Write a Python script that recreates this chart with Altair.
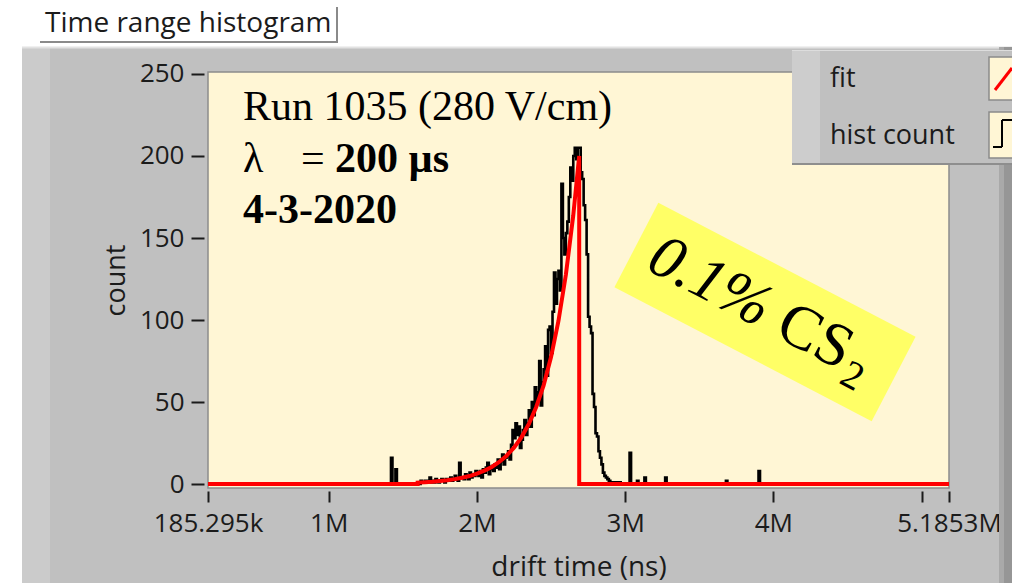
import math
import altair as alt
import pandas as pd

# ---------------- data ----------------
# drift time axis (ns)
x_domain = [185295, 5185300]
x_tick_values = [185295, 1000000, 2000000, 3000000, 4000000, 5000000, 5185300]
x_tick_labels = ["185.295k", "1M", "2M", "3M", "4M", "", "5.1853M"]
y_tick_values = [0, 50, 100, 150, 200, 250]

# histogram: bin width 0.01 M ns, contiguous block starting at 1.60 M ns
hist_bin_width_M = 0.01
hist_block_start_M = 1.60
hist_rise = [1, 0, 2, 1, 1, 2, 1, 2, 4, 1,
             2, 1, 3, 2, 1, 2, 3, 2, 1, 3,
             3, 2, 4, 2, 3, 5, 3, 2, 13, 4,
             4, 3, 6, 5, 3, 7, 4, 6, 5, 8,
             6, 5, 8, 4, 9, 7, 10, 13, 6, 9,
             11, 8, 12, 10, 15, 9, 14, 18, 12, 16,
             17, 20, 15, 24, 33, 28, 37, 30, 35, 22]
hist_peak = [27, 33, 39, 30, 37, 45, 35, 50, 42, 59,
             50, 56, 75, 48, 62, 70, 84, 66, 94, 96,
             80, 105, 129, 110, 125, 130, 118, 183, 150, 140,
             153, 160, 175, 193, 185, 200, 205, 198, 205, 205]
hist_tail = [190, 186, 170, 161, 140, 102, 96, 92, 55, 47,
             31, 29, 20, 16, 12, 7, 5, 4, 3, 2,
             1, 1, 0, 1, 1, 0, 1]
# isolated single-bin spikes (M ns, count)
spike_t_M = [1.42, 1.45, 3.03, 3.08, 3.13, 3.27, 3.68, 3.90]
spike_c = [16, 9, 19, 2, 4, 4, 2, 8]

# exponential fit (M ns, count), zero elsewhere
fit_t_M = [1.60, 1.65, 1.70, 1.75, 1.80, 1.85, 1.90, 1.95, 2.00, 2.05, 2.10, 2.15,
           2.20, 2.25, 2.30, 2.35, 2.40, 2.45, 2.50, 2.55, 2.60, 2.65, 2.69]
fit_c = [0.9, 1.1, 1.4, 1.8, 2.3, 3.0, 3.9, 4.9, 6.4, 8.2, 10.4, 13.5,
         17.3, 22.2, 28.5, 36.6, 47.0, 60.2, 77.4, 99.4, 127.6, 163.8, 200]

# ---------------- build tables ----------------
block = hist_rise + hist_peak + hist_tail
pts = [(x_domain[0] / 1e6, 0)]
for i, c in enumerate(block):
    pts.append((round(hist_block_start_M + i * hist_bin_width_M, 4), c))
pts.append((round(hist_block_start_M + len(block) * hist_bin_width_M, 4), 0))
for t, c in zip(spike_t_M, spike_c):
    pts.append((t, c))
    pts.append((round(t + hist_bin_width_M, 4), 0))
pts.append((x_domain[1] / 1e6, 0))
pts.sort(key=lambda p: p[0])
hist_df = pd.DataFrame({"t": [p[0] * 1e6 for p in pts], "c": [p[1] for p in pts],
                        "o": list(range(len(pts)))})

fpts = [(x_domain[0] / 1e6, 0), (fit_t_M[0], 0)]
fpts += list(zip(fit_t_M, fit_c))
fpts += [(fit_t_M[-1], 0), (x_domain[1] / 1e6, 0)]
fit_df = pd.DataFrame({"t": [p[0] * 1e6 for p in fpts], "c": [p[1] for p in fpts],
                       "o": list(range(len(fpts)))})

# ---------------- styling ----------------
UI_FONT = "Open Sans"
SERIF = "Liberation Serif"
INK = "#1b1b1b"
CREAM = "#FFF6D5"
PANEL = "#C0C0C0"

label_expr = "''"
for v, l in reversed(list(zip(x_tick_values, x_tick_labels))):
    label_expr = f"datum.value == {v} ? '{l}' : ({label_expr})"

x_axis = alt.Axis(values=x_tick_values, labelExpr=label_expr, title="drift time (ns)",
                  domain=False, grid=False, tickColor=INK, tickWidth=2, tickSize=11,
                  offset=3, labelPadding=8, labelFlush=False, labelOverlap=False,
                  labelFont=UI_FONT, labelFontSize=26, labelColor=INK,
                  titleFont=UI_FONT, titleFontSize=28, titleFontWeight="normal",
                  titleColor=INK, titlePadding=17)
y_axis = alt.Axis(values=y_tick_values, title="count", domain=False, grid=False,
                  tickColor=INK, tickWidth=2, tickSize=13, offset=4, labelPadding=7,
                  labelOverlap=False, labelFont=UI_FONT, labelFontSize=26, labelColor=INK,
                  titleFont=UI_FONT, titleFontSize=27, titleFontWeight="normal",
                  titleColor=INK, titlePadding=9)

x_enc = alt.X("t:Q", scale=alt.Scale(domain=x_domain, nice=False, zero=False), axis=x_axis)
y_enc = alt.Y("c:Q", scale=alt.Scale(domain=[-2.4, 251.2], nice=False, zero=False), axis=y_axis)

hist_line = alt.Chart(hist_df).mark_line(color="black", strokeWidth=2.6,
                                          interpolate="step-after").encode(
    x=x_enc, y=y_enc, order=alt.Order("o:Q"))
fit_line = alt.Chart(fit_df).mark_line(color="#FF0000", strokeWidth=4,
                                        interpolate="linear").encode(
    x=x_enc, y=y_enc, order=alt.Order("o:Q"))

one = alt.Data(values=[{"k": 1}])
OX, OY = 208, 72  # plot-area origin in page pixels


def rect(x1, x2, y1, y2, fill, **kw):
    return alt.Chart(one).mark_rect(fill=fill, **kw).encode(
        x=alt.value(x1 - OX), x2=alt.value(x2 - OX),
        y=alt.value(y1 - OY), y2=alt.value(y2 - OY))


def line(x1, y1, x2, y2, color, w=1):
    return alt.Chart(one).mark_rule(color=color, strokeWidth=w).encode(
        x=alt.value(x1 - OX), x2=alt.value(x2 - OX),
        y=alt.value(y1 - OY), y2=alt.value(y2 - OY))


def text(s, x, y, **kw):
    return alt.Chart(one).mark_text(text=s, **kw).encode(
        x=alt.value(x - OX), y=alt.value(y - OY))


W, H = 1012, 583
frame = [
    rect(0, W, 0, 47, "white"),
    rect(0, 22, 47, H, "white"),
    rect(22, 50, 47, H, "#CBCBCB"),
    line(22, 47.5, W, 47.5, "#E2E2E2", 2),
    rect(999, 1004, 47, H, "#A9A9A9"),
    rect(1004, W, 47, H, "#969696"),
    # title box
    rect(40, 338, 7, 43, "white"),
    line(40, 42, 338, 42, "#8A8A8A", 2),
    line(337, 7, 337, 43, "#8A8A8A", 2),
    text("Time range histogram", 45, 24, font=UI_FONT, fontSize=28, color=INK,
         align="left", baseline="middle"),
]

ann = [
    text("Run 1035 (280 V/cm)", 243, 120, font=SERIF, fontSize=42, color="black",
         align="left", baseline="alphabetic"),
    text("λ", 243, 172, font=SERIF, fontSize=42, color="black", align="left",
         baseline="alphabetic"),
    text("=", 301, 172, font=SERIF, fontSize=42, color="black", align="left",
         baseline="alphabetic"),
    text("200 µs", 335, 172, font=SERIF, fontSize=42, fontWeight="bold", color="black",
         align="left", baseline="alphabetic"),
    text("4-3-2020", 243, 223, font=SERIF, fontSize=42, fontWeight="bold", color="black",
         align="left", baseline="alphabetic"),
]

# rotated yellow note
ang = 27.5
ca, sa = math.cos(math.radians(ang)), math.sin(math.radians(ang))
cx, cy = 765, 312
note_box = alt.Chart(one).mark_point(
    shape="M-1,-0.328L1,-0.328L1,0.328L-1,0.328Z", filled=True, fill="#FFFF66",
    opacity=1, strokeWidth=0, size=84100, angle=ang).encode(
    x=alt.value(cx - OX), y=alt.value(cy - OY))
fs = 62
sx, sy = cx - ca * 127 - sa * 17, cy - sa * 127 + ca * 17


def along(d, down=0.0):
    return sx + ca * d - sa * down, sy + sa * d + ca * down


p1 = along(0)
p2 = along(145)
p3 = along(224, 12)
note = [
    note_box,
    text("0.1%", p1[0], p1[1], font=SERIF, fontSize=fs, fontStyle="italic", color="black",
         align="left", baseline="alphabetic", angle=ang),
    text("CS", p2[0], p2[1], font=SERIF, fontSize=fs, color="black",
         align="left", baseline="alphabetic", angle=ang),
    text("2", p3[0], p3[1], font=SERIF, fontSize=40, color="black",
         align="left", baseline="alphabetic", angle=ang),
]

legend = [
    rect(792, W, 50, 165, PANEL),
    rect(792, 820, 50, 165, "#CDCDCD"),
    line(792, 50.5, W, 50.5, "#DDDDDD", 1),
    line(792, 164, W, 164, "#8E8E8E", 2),
    text("fit", 830, 79, font=UI_FONT, fontSize=27, color=INK, align="left", baseline="middle"),
    text("hist count", 830, 136, font=UI_FONT, fontSize=27, color=INK, align="left",
         baseline="middle"),
    rect(989, 1013, 57, 100, CREAM, stroke="#8A8A8A", strokeWidth=1.5),
    rect(989, 1013, 112, 158, CREAM, stroke="#8A8A8A", strokeWidth=1.5),
    line(995, 90, 1012, 68, "#FF0000", 3),
    line(993, 147, 1002, 147, "black", 2),
    line(1002, 147, 1002, 120, "black", 2),
    line(1002, 120, 1012, 120, "black", 2),
]

chart = alt.layer(*frame, hist_line, fit_line, *ann, *note, *legend).properties(
    width=741, height=416,
    autosize=alt.AutoSizeParams(type="none"),
    padding={"left": OX, "top": OY, "right": W - OX - 741, "bottom": H - OY - 416},
    background=PANEL,
).configure_view(fill=CREAM, stroke="#8C8C8C", strokeWidth=1.5)

chart.save("out.html", embed_options={"renderer": "svg", "actions": False})
